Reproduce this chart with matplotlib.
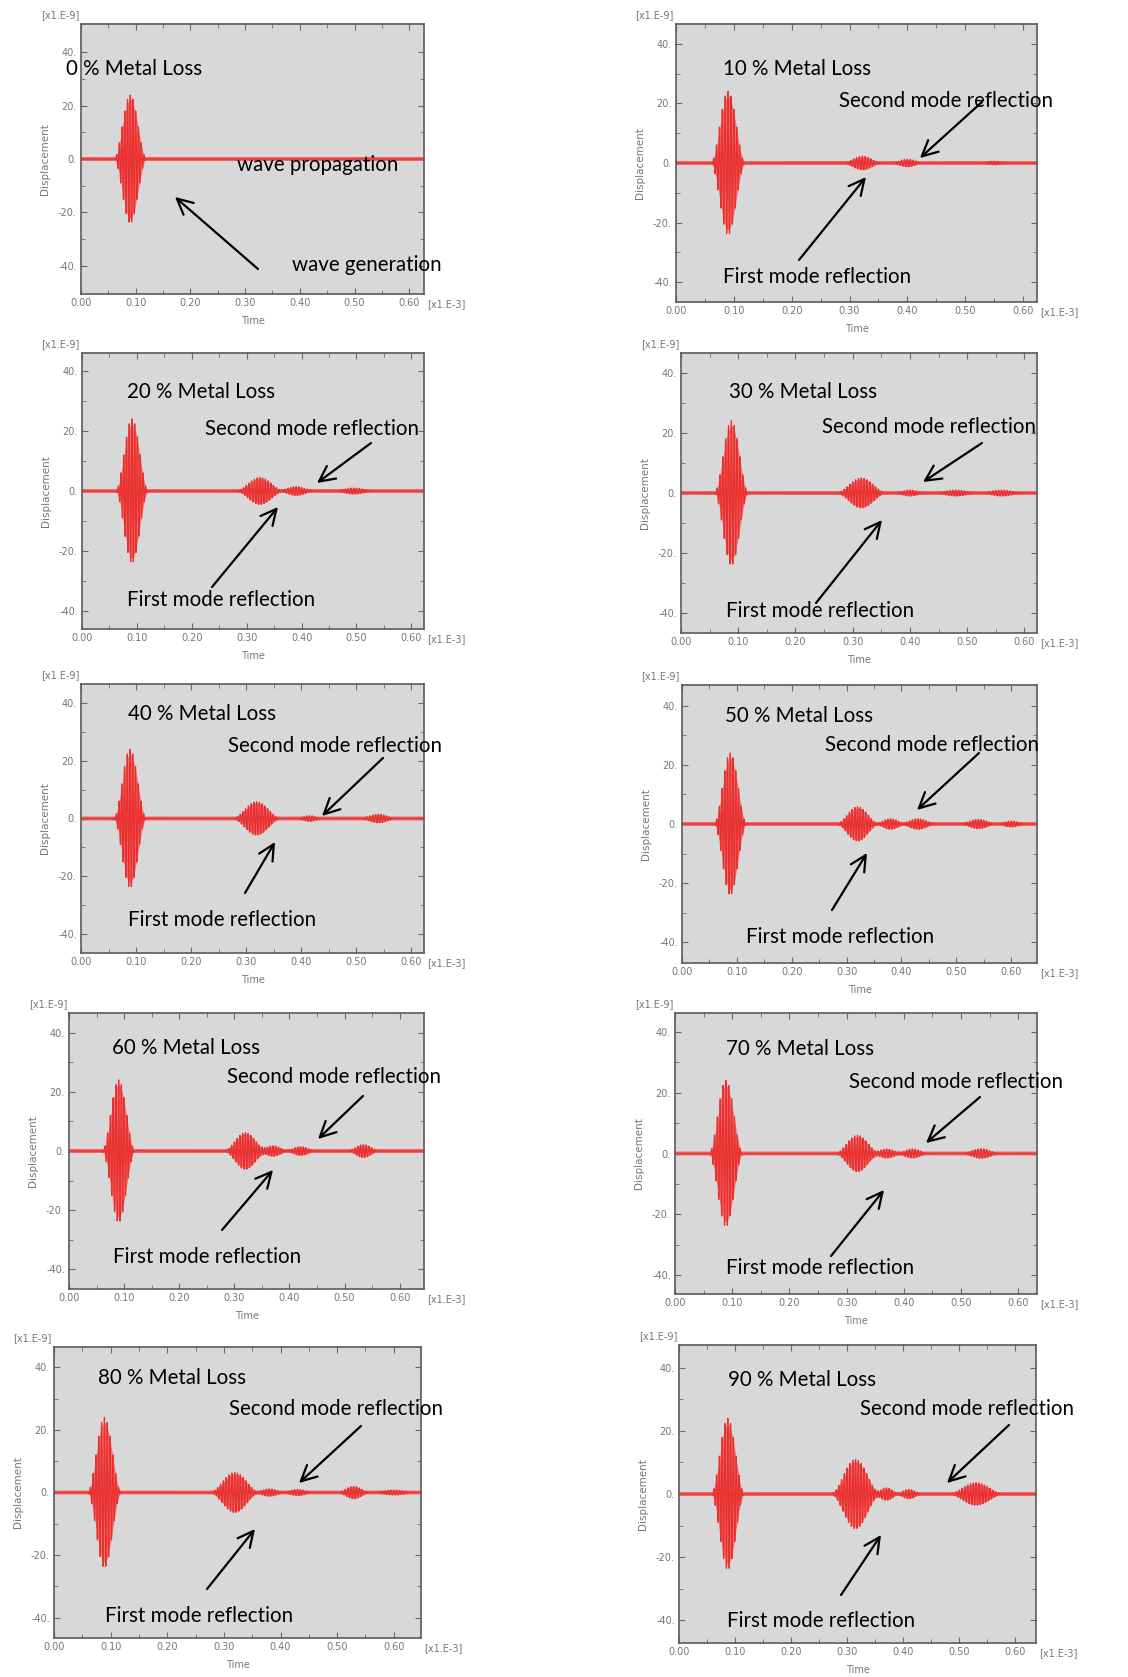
import numpy as np
import matplotlib
matplotlib.use('Agg')
import matplotlib.pyplot as plt

W, H = 1128, 1677

loss_pct = [0, 10, 20, 30, 40, 50, 60, 70, 80, 90]

# wave packets:
# centre time [x1.E-3], peak displacement [x1.E-9], half width [x1.E-3]
pkt_time = [
    [0.090],
    [0.090, 0.322, 0.400, 0.550],
    [0.091, 0.324, 0.390, 0.495],
    [0.088, 0.315, 0.400, 0.480, 0.560],
    [0.089, 0.319, 0.415, 0.540],
    [0.088, 0.320, 0.380, 0.430, 0.540, 0.600],
    [0.090, 0.320, 0.370, 0.420, 0.534],
    [0.089, 0.319, 0.370, 0.415, 0.535],
    [0.089, 0.319, 0.380, 0.430, 0.529, 0.600],
    [0.087, 0.315, 0.370, 0.410, 0.530],
]
pkt_amp = [
    [24],
    [24, 2.3, 1.3, 0.6],
    [24, 4.5, 1.5, 1.0],
    [24, 5.0, 1.0, 1.0, 1.0],
    [24, 5.8, 1.0, 1.5],
    [24, 5.8, 1.8, 1.8, 1.6, 1.0],
    [24, 6.2, 1.8, 1.5, 2.2],
    [24, 6.0, 1.5, 1.5, 1.6],
    [24, 6.4, 1.2, 1.0, 2.0, 0.8],
    [24, 11.0, 2.0, 1.5, 3.6],
]
pkt_half = [
    [0.030],
    [0.030, 0.035, 0.030, 0.030],
    [0.030, 0.045, 0.035, 0.040],
    [0.030, 0.045, 0.030, 0.040, 0.040],
    [0.030, 0.045, 0.025, 0.035],
    [0.030, 0.040, 0.030, 0.035, 0.035, 0.030],
    [0.030, 0.040, 0.030, 0.030, 0.030],
    [0.030, 0.040, 0.030, 0.030, 0.035],
    [0.030, 0.045, 0.030, 0.030, 0.030, 0.040],
    [0.030, 0.045, 0.025, 0.025, 0.050],
]
carrier_period = 0.005

x_end = [0.627, 0.624, 0.623, 0.622, 0.623, 0.647, 0.644, 0.633, 0.648, 0.637]
y_half = [50.6, 46.6, 46.0, 46.5, 46.7, 47.0, 46.6, 46.2, 46.5, 47.3]

# layout in pixels: left, right, top, bottom
boxes = [
    (81, 424, 24, 294), (676, 1037, 24, 302),
    (82, 424, 353, 629), (681, 1037, 353, 633),
    (81, 424, 684, 953), (682, 1037, 685, 963),
    (69, 424, 1013, 1289), (675, 1037, 1013, 1294),
    (54, 421, 1347, 1638), (679, 1036, 1345, 1643),
]
# annotation text positions (left, baseline) and arrows (tail, head), in pixels
title_pos = [(66, 75), (723, 75), (127, 398), (729, 398), (128, 720),
             (725, 722), (112, 1054), (726, 1055), (98, 1384), (728, 1386)]
second_pos = [None, (839, 107), (205, 435), (822, 433), (228, 752),
              (825, 751), (227, 1083), (849, 1088), (229, 1415), (860, 1415)]
first_pos = [None, (723, 283), (127, 606), (726, 617), (128, 926),
             (746, 943), (113, 1263), (726, 1274), (105, 1622), (727, 1627)]
second_arrow = [None, ((982, 102), (920, 158)), ((371, 443), (317, 483)),
                ((982, 443), (923, 482)), ((383, 758), (322, 816)),
                ((979, 753), (917, 810)), ((363, 1096), (318, 1139)),
                ((980, 1097), (926, 1143)), ((361, 1426), (299, 1483)),
                ((1009, 1425), (947, 1483))]
first_arrow = [None, ((799, 260), (866, 177)), ((212, 587), (278, 507)),
               ((816, 603), (882, 520)), ((245, 893), (275, 842)),
               ((832, 910), (867, 853)), ((222, 1230), (273, 1170)),
               ((831, 1256), (884, 1190)), ((207, 1589), (255, 1529)),
               ((841, 1595), (881, 1535))]

GREY_TXT = '#767676'
ANN_FONT = 'Lato'
ANN_SIZE = 14.8


def fx(x):
    return x / W


def fy(y):
    return 1 - y / H


def signal(t, centres, amps, halves):
    s = np.zeros_like(t)
    env_all = np.zeros_like(t)
    for c, a, h in zip(centres, amps, halves):
        m = np.abs(t - c) < h
        env = a * 0.5 * (1 + np.cos(np.pi * (t[m] - c) / h))
        s[m] += env * np.cos(2 * np.pi * (t[m] - c) / carrier_period)
        env_all[m] += env
    return s, env_all


fig = plt.figure(figsize=(W / 100, H / 100), dpi=100)

for i in range(10):
    l, r, t, b = boxes[i]
    ax = fig.add_axes([fx(l), fy(b), (r - l) / W, (b - t) / H])
    ax.set_facecolor('#d8d8d8')
    tt = np.arange(0, x_end[i], 0.0001)
    ss, ee = signal(tt, pkt_time[i], pkt_amp[i], pkt_half[i])
    ax.fill_between(tt, -0.93 * ee, 0.93 * ee, color='#f27272', lw=0)
    ax.plot(tt, np.zeros_like(tt), color='#f06060', lw=2.8)
    ax.plot(tt, ss, color='#e8302f', lw=0.9)
    ax.set_xlim(0, x_end[i])
    ax.set_ylim(-y_half[i], y_half[i])
    ax.set_xticks(np.arange(0, 0.61, 0.1))
    ax.set_xticklabels(['%.2f' % v for v in np.arange(0, 0.61, 0.1)])
    ax.set_xticks(np.arange(0.05, 0.65, 0.1), minor=True)
    ax.set_yticks([-40, -20, 0, 20, 40])
    ax.set_yticklabels(['-40.', '-20.', '0.', '20.', '40.'])
    ax.set_yticks([-30, -10, 10, 30], minor=True)
    ax.tick_params(which='both', direction='in', top=True, right=True,
                   color='#6a6a6a', labelsize=7, labelcolor=GREY_TXT, pad=3)
    ax.tick_params(which='major', length=4)
    ax.tick_params(which='minor', length=3)
    for sp in ax.spines.values():
        sp.set_color('#5a5a5a')
        sp.set_linewidth(1.2)

    fig.text(fx(l - 2), fy(t - 9), '[x1.E-9]', ha='right', va='center',
             fontsize=7, color=GREY_TXT)
    fig.text(fx(r + 3), fy(b + 10), '[x1.E-3]', ha='left', va='center',
             fontsize=7, color=GREY_TXT)
    fig.text(fx((l + r) / 2), fy(b + 27), 'Time', ha='center', va='center',
             fontsize=7, color=GREY_TXT)
    fig.text(fx(l - 36), fy((t + b) / 2), 'Displacement', ha='center',
             va='center', rotation=90, fontsize=7.5, color=GREY_TXT)

    fig.text(fx(title_pos[i][0]), fy(title_pos[i][1]),
             '%d %% Metal Loss' % loss_pct[i], ha='left', va='baseline',
             fontsize=ANN_SIZE, family=ANN_FONT, color='black')

    if i == 0:
        fig.text(fx(237), fy(171), 'wave propagation', ha='left', va='baseline',
                 fontsize=ANN_SIZE, family=ANN_FONT, color='black')
        fig.text(fx(292), fy(271), 'wave generation', ha='left', va='baseline',
                 fontsize=ANN_SIZE, family=ANN_FONT, color='black')
        arrows = [((258, 269), (175, 197))]
    else:
        fig.text(fx(second_pos[i][0]), fy(second_pos[i][1]),
                 'Second mode reflection', ha='left', va='baseline',
                 fontsize=ANN_SIZE, family=ANN_FONT, color='black')
        fig.text(fx(first_pos[i][0]), fy(first_pos[i][1]),
                 'First mode reflection', ha='left', va='baseline',
                 fontsize=ANN_SIZE, family=ANN_FONT, color='black')
        arrows = [second_arrow[i], first_arrow[i]]

    for tail, head in arrows:
        ax.annotate('', xy=(head[0], H - head[1]), xycoords='figure pixels',
                    xytext=(tail[0], H - tail[1]), textcoords='figure pixels',
                    annotation_clip=False,
                    arrowprops=dict(arrowstyle='->,head_length=0.7,head_width=0.35',
                                    lw=1.6, color='black', mutation_scale=16,
                                    shrinkA=0, shrinkB=0))

fig.savefig('out.png', dpi=100, facecolor='white')
